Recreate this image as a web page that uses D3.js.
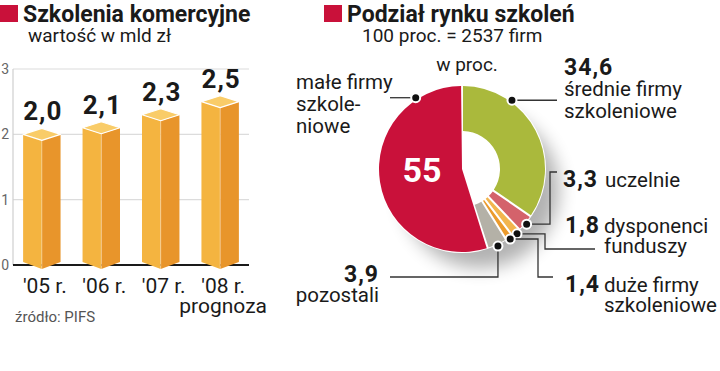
<!DOCTYPE html>
<html>
<head>
<meta charset="utf-8">
<script src="https://cdn.jsdelivr.net/npm/d3@7"></script>
<style>
  body { margin: 0; background: #fff; }
  svg { display: block; font-family: Roboto, "Liberation Sans", sans-serif; }
  .num { font-weight: 700; letter-spacing: 1px; fill: #1a1a1a; }
  .lbl { fill: #1a1a1a; font-size: 20.5px; }
</style>
</head>
<body>
<div id="chart"></div>
<script>
// bar chart data
var years = ["'05 r.", "'06 r.", "'07 r.", "'08 r."];
var values = [2.0, 2.1, 2.3, 2.5];
var valueLabels = ["2,0", "2,1", "2,3", "2,5"];
var yTicks = [0, 1, 2, 3];

// donut data (clockwise from the top)
var segments = ["średnie firmy szkoleniowe", "uczelnie", "dysponenci funduszy", "duże firmy szkoleniowe", "pozostali", "małe firmy szkoleniowe"];
var shares = [34.6, 3.3, 1.8, 1.4, 3.9, 55];
var shareLabels = ["34,6", "3,3", "1,8", "1,4", "3,9", "55"];

var RED = "#c9113a";

var svg = d3.select("#chart").append("svg")
  .attr("width", 720)
  .attr("height", 371);

// ---------- titles ----------
function title(x, text, sub, subX) {
  svg.append("rect")
    .attr("x", x).attr("y", 5)
    .attr("width", 18).attr("height", 17)
    .attr("fill", RED);
  svg.append("text")
    .attr("x", x + 23).attr("y", 22)
    .style("font-size", "23px")
    .style("font-weight", 700)
    .attr("fill", "#1a1a1a")
    .text(text);
  svg.append("text")
    .attr("x", subX).attr("y", 42)
    .style("font-size", "19px")
    .attr("fill", "#1a1a1a")
    .text(sub);
}
title(0, "Szkolenia komercyjne", "wartość w mld zł", 28);
title(324, "Podział rynku szkoleń", "100 proc. = 2537 firm", 362);

// ---------- bar chart ----------
var BarVis = function(_svg) {
  this.svg = _svg;
  this.initVis();
};

BarVis.prototype.initVis = function() {
  var vis = this;
  vis.left = 13;
  vis.right = 249;

  vis.yScale = d3.scaleLinear()
    .domain([0, 3])
    .range([265, 69]);

  vis.xScale = d3.scaleBand()
    .domain(years)
    .range([vis.left, vis.right])
    .paddingInner(0.37)
    .paddingOuter(0.17);

  var g = vis.svg.append("g");

  // grid
  g.selectAll(".grid")
    .data(yTicks.filter(function(d) { return d > 0; }))
    .enter()
    .append("line")
    .attr("class", "grid")
    .attr("x1", vis.left).attr("x2", vis.right)
    .attr("y1", function(d) { return vis.yScale(d); })
    .attr("y2", function(d) { return vis.yScale(d); })
    .attr("stroke", "#dcdcdc")
    .attr("stroke-width", 1.2);

  g.append("line")
    .attr("x1", vis.left).attr("x2", vis.left)
    .attr("y1", vis.yScale(3)).attr("y2", vis.yScale(0))
    .attr("stroke", "#cfcfcf")
    .attr("stroke-width", 1.2);

  g.selectAll(".tick-lbl")
    .data(yTicks)
    .enter()
    .append("text")
    .attr("class", "tick-lbl")
    .attr("x", 9)
    .attr("y", function(d) { return vis.yScale(d) + 5; })
    .attr("text-anchor", "end")
    .style("font-size", "14px")
    .attr("fill", "#666")
    .text(function(d) { return d; });

  g.append("line")
    .attr("x1", vis.left).attr("x2", vis.right)
    .attr("y1", vis.yScale(0)).attr("y2", vis.yScale(0))
    .attr("stroke", "#1a1a1a")
    .attr("stroke-width", 2);

  var y0 = vis.yScale(0);
  var bw = vis.xScale.bandwidth();
  var dep = 6;

  var bars = g.selectAll(".bar")
    .data(values)
    .enter()
    .append("g")
    .attr("class", "bar");

  function pts(arr) {
    return arr.map(function(p) { return p.join(","); }).join(" ");
  }

  bars.append("polygon")
    .attr("points", function(d, i) {
      var x0 = vis.xScale(years[i]), xc = x0 + bw / 2, yv = vis.yScale(d);
      return pts([[x0, yv], [xc, yv + dep], [xc, y0 + 4], [x0, y0 - 3]]);
    })
    .attr("fill", "#f4b440");

  bars.append("polygon")
    .attr("points", function(d, i) {
      var x0 = vis.xScale(years[i]), xc = x0 + bw / 2, x1 = x0 + bw, yv = vis.yScale(d);
      return pts([[xc, yv + dep], [x1, yv], [x1, y0 - 3], [xc, y0 + 4]]);
    })
    .attr("fill", "#e8952b");

  bars.append("line")
    .attr("x1", function(d, i) { return vis.xScale(years[i]) + bw / 2; })
    .attr("x2", function(d, i) { return vis.xScale(years[i]) + bw / 2; })
    .attr("y1", function(d) { return vis.yScale(d) + dep; })
    .attr("y2", y0 + 4)
    .attr("stroke", "#fff")
    .attr("stroke-opacity", 0.35)
    .attr("stroke-width", 1);

  bars.append("polygon")
    .attr("points", function(d, i) {
      var x0 = vis.xScale(years[i]), xc = x0 + bw / 2, x1 = x0 + bw, yv = vis.yScale(d);
      return pts([[x0, yv], [xc, yv - dep], [x1, yv], [xc, yv + dep]]);
    })
    .attr("fill", "#f9cc68")
    .attr("stroke", "#fff")
    .attr("stroke-width", 1.2)
    .attr("stroke-linejoin", "round");

  bars.append("text")
    .attr("class", "num")
    .attr("x", function(d, i) { return vis.xScale(years[i]) + bw / 2 + 1; })
    .attr("y", function(d) { return vis.yScale(d) - 14; })
    .attr("text-anchor", "middle")
    .style("font-size", "26px")
    .text(function(d, i) { return valueLabels[i]; });

  g.selectAll(".year")
    .data(years)
    .enter()
    .append("text")
    .attr("class", "year")
    .attr("x", function(d) { return vis.xScale(d) + bw / 2 + 3; })
    .attr("y", 293)
    .attr("text-anchor", "middle")
    .style("font-size", "21px")
    .attr("fill", "#1a1a1a")
    .text(function(d) { return d; });

  g.append("text")
    .attr("x", vis.xScale(years[3]) + bw / 2 + 3)
    .attr("y", 313)
    .attr("text-anchor", "middle")
    .style("font-size", "21px")
    .attr("fill", "#1a1a1a")
    .text("prognoza");

  g.append("text")
    .attr("x", 15).attr("y", 322)
    .style("font-size", "15px")
    .attr("fill", "#555")
    .text("źródło: PIFS");
};

// ---------- donut ----------
var DonutVis = function(_svg) {
  this.svg = _svg;
  this.initVis();
};

DonutVis.prototype.initVis = function() {
  var vis = this;
  vis.cx = 462;
  vis.cy = 169;
  vis.outer = 83;
  vis.inner = 38;

  vis.color = d3.scaleOrdinal()
    .domain(segments)
    .range(["#aab93c", "#d4626b", "#f2b54e", "#eb9b2d", "#b4b1a7", RED]);

  // label layout: dot angle override (deg), leader turns, text lines
  vis.layout = [
    { angle: 36, start: "h", turns: [557], num: [564, 75, "start"], lines: [[564, 96, "średnie firmy"], [564, 118, "szkoleniowe"]] },
    { start: "h", turns: [550, 172, 557], num: [563, 187, "start"], lines: [[605, 187, "uczelnie"]] },
    { start: "h", turns: [545, 249, 595], num: [565, 233, "start"], lines: [[604, 233, "dysponenci"], [604, 253, "funduszy"]] },
    { start: "h", turns: [538, 277, 553], num: [565, 292, "start"], lines: [[604, 292, "duże firmy"], [604, 312, "szkoleniowe"]] },
    { start: "v", turns: [277, 390], num: [379, 282, "end"], lines: [[379, 302, "pozostali"]] },
    { angle: 327, start: "h", turns: [390], num: null, lines: [[296, 89, "małe firmy"], [296, 111, "szkole-"], [296, 133, "niowe"]] }
  ];

  var defs = vis.svg.append("defs");
  var f = defs.append("filter").attr("id", "shadow")
    .attr("x", "-50%").attr("y", "-50%").attr("width", "200%").attr("height", "200%");
  f.append("feGaussianBlur").attr("stdDeviation", 9);

  var g = vis.svg.append("g")
    .attr("transform", "translate(" + vis.cx + "," + vis.cy + ")");

  g.append("circle")
    .attr("cx", 18).attr("cy", 20)
    .attr("r", vis.outer - 4)
    .attr("fill", "#000")
    .attr("opacity", 0.3)
    .attr("filter", "url(#shadow)");

  g.append("circle")
    .attr("r", vis.outer + 1)
    .attr("fill", "#fff");

  vis.pie = d3.pie()
    .sort(null)
    .value(function(d) { return d; });

  vis.arcs = vis.pie(shares);

  var arc = d3.arc()
    .outerRadius(vis.outer)
    .innerRadius(function(d) { return d.index === segments.length - 1 ? 0 : vis.inner; })
    .padAngle(0.022);

  g.selectAll(".slice")
    .data(vis.arcs)
    .enter()
    .append("path")
    .attr("class", "slice")
    .attr("d", arc)
    .attr("fill", function(d, i) { return vis.color(segments[i]); });

  g.append("text")
    .attr("x", -40).attr("y", 13)
    .attr("text-anchor", "middle")
    .style("font-size", "34px")
    .style("font-weight", 700)
    .attr("fill", "#fff")
    .text(shareLabels[5]);

  vis.svg.append("text")
    .attr("x", 467).attr("y", 71)
    .attr("text-anchor", "middle")
    .style("font-size", "19px")
    .attr("fill", "#1a1a1a")
    .text("w proc.");

  var dotR = 85;
  vis.arcs.forEach(function(a, i) {
    var lay = vis.layout[i];
    var ang = lay.angle !== undefined ? lay.angle * Math.PI / 180 : (a.startAngle + a.endAngle) / 2;
    var px = vis.cx + dotR * Math.sin(ang);
    var py = vis.cy - dotR * Math.cos(ang);

    var path = d3.path();
    path.moveTo(px, py);
    var cx = px, cy = py, horiz = lay.start === "h";
    lay.turns.forEach(function(t) {
      if (horiz) { cx = t; } else { cy = t; }
      path.lineTo(cx, cy);
      horiz = !horiz;
    });
    vis.svg.append("path")
      .attr("d", path.toString())
      .attr("fill", "none")
      .attr("stroke", "#333")
      .attr("stroke-width", 1.3);

    vis.svg.append("circle")
      .attr("cx", px).attr("cy", py)
      .attr("r", 4.5)
      .attr("fill", "#111")
      .attr("stroke", "#fff")
      .attr("stroke-width", 2);

    if (lay.num) {
      vis.svg.append("text")
        .attr("class", "num")
        .attr("x", lay.num[0]).attr("y", lay.num[1])
        .attr("text-anchor", lay.num[2])
        .style("font-size", "23px")
        .text(shareLabels[i]);
    }
    lay.lines.forEach(function(l) {
      vis.svg.append("text")
        .attr("class", "lbl")
        .attr("x", l[0]).attr("y", l[1])
        .attr("text-anchor", lay.num ? lay.num[2] : "start")
        .text(l[2]);
    });
  });
};

new BarVis(svg);
new DonutVis(svg);
</script>
</body>
</html>
